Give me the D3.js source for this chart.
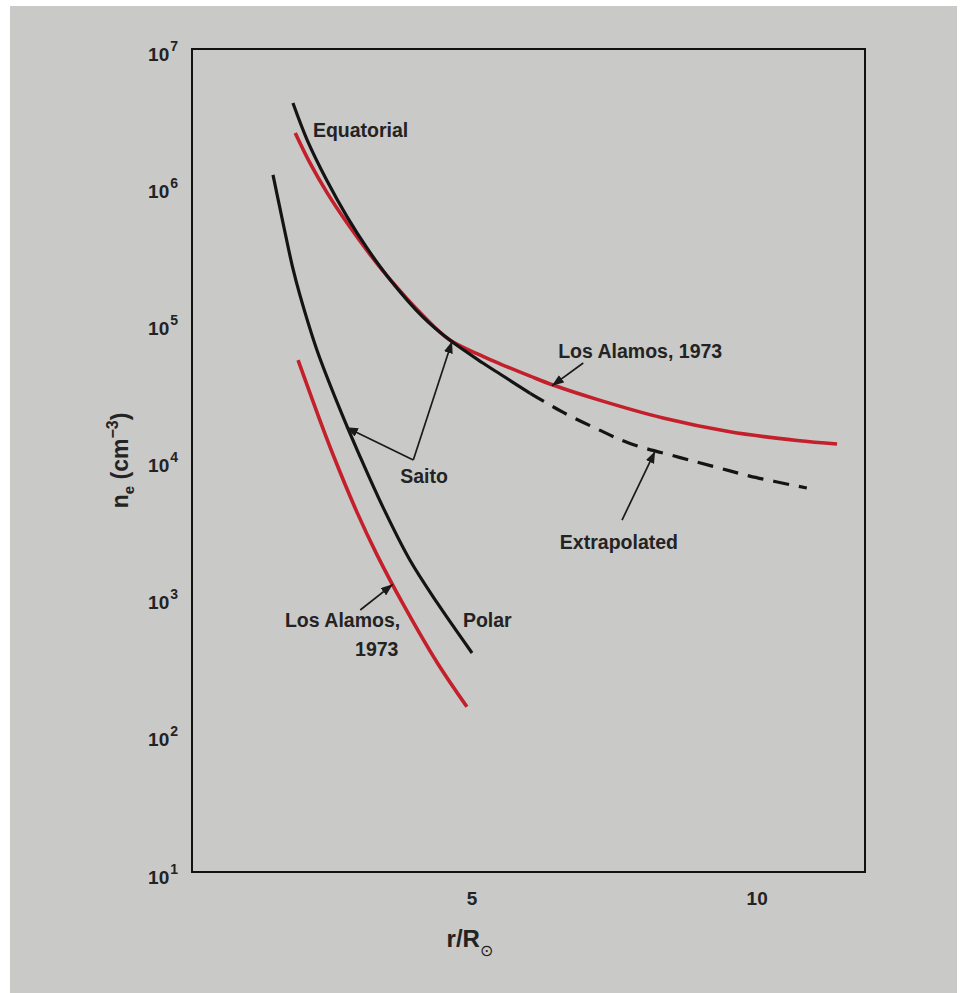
<!DOCTYPE html>
<html>
<head>
<meta charset="utf-8">
<script src="https://cdn.jsdelivr.net/npm/d3@7"></script>
<style>
  html, body { margin: 0; padding: 0; background: #fff; }
  svg text { font-family: "Liberation Sans", Arial, sans-serif; fill: #232323; }
</style>
</head>
<body>
<div id="chart"></div>
<script>
// r/R_sun, n_e (cm^-3)
const equatorialR = [1.87, 2.12, 2.47, 2.82, 3.17, 3.57, 4.15, 4.62, 5.20, 5.50, 6.03];
const equatorialN = [4.04e6, 2.17e6, 1.09e6, 5.97e5, 3.53e5, 2.09e5, 1.11e5, 7.55e4, 5.14e4, 4.27e4, 3.09e4];

const extrapolatedR = [6.03, 6.61, 7.20, 7.78, 8.66, 9.31, 9.88, 10.88];
const extrapolatedN = [3.09e4, 2.24e4, 1.70e4, 1.33e4, 1.05e4, 8.9e3, 7.7e3, 6.3e3];

const losAlamosEqR = [1.91, 2.17, 2.47, 2.82, 3.22, 3.52, 4.15, 4.62, 5.20, 5.50, 6.03, 6.43, 7.20, 8.36, 9.53, 10.71, 11.41];
const losAlamosEqN = [2.44e6, 1.47e6, 8.93e5, 5.38e5, 3.18e5, 2.22e5, 1.14e5, 7.55e4, 5.75e4, 5.07e4, 4.12e4, 3.55e4, 2.79e4, 2.04e4, 1.62e4, 1.40e4, 1.32e4];

const polarR = [1.52, 1.70, 1.87, 1.99, 2.29, 2.70, 3.05, 3.45, 3.92, 4.40, 5.01];
const polarN = [1.21e6, 5.3e5, 2.5e5, 1.62e5, 6.4e4, 2.33e4, 1.06e4, 4.55e3, 1.88e3, 915, 395];

const losAlamosPolarR = [1.96, 2.29, 2.57, 2.99, 3.34, 3.80, 4.40, 4.92];
const losAlamosPolarN = [5.4e4, 2.25e4, 1.11e4, 4.22e3, 2.07e3, 900, 335, 160];

const xTicks = [5, 10];
const yTicks = [1e1, 1e2, 1e3, 1e4, 1e5, 1e6, 1e7];

// labels: text anchor point and arrows (tail -> tip), data coords
const labels = [
  { text: "Equatorial", r: 2.22, n: 2.28e6, anchor: "start" },
  { text: "Saito", r: 3.75, n: 6.85e3, anchor: "start" },
  { text: "Los Alamos, 1973", r: 6.52, n: 5.59e4, anchor: "start" },
  { text: "Extrapolated", r: 6.55, n: 2.26e3, anchor: "start" },
  { text: "Los Alamos,", r: 3.75, n: 611, anchor: "end" },
  { text: "1973", r: 3.72, n: 376, anchor: "end" },
  { text: "Polar", r: 4.85, n: 611, anchor: "start" }
];
const arrows = [
  { from: [3.98, 1.01e4], to: [2.80, 1.75e4] },
  { from: [3.98, 1.01e4], to: [4.66, 7.4e4] },
  { from: [6.96, 5.14e4], to: [6.41, 3.5e4] },
  { from: [7.64, 3.68e3], to: [8.22, 1.17e4] },
  { from: [3.05, 813], to: [3.62, 1.25e3] }
];

const W = 963, H = 993;
const margin = { top: 49, right: 98, bottom: 121, left: 192 },
  width = W - margin.left - margin.right,
  height = H - margin.top - margin.bottom;

const root = d3.select('#chart')
  .append('svg')
  .attr('width', W)
  .attr('height', H);

root.append('rect')
  .attr('x', 10).attr('y', 6)
  .attr('width', 947).attr('height', 987)
  .attr('fill', '#c9c9c8');

const svg = root.append('g')
  .attr('transform', 'translate(' + margin.left + ',' + margin.top + ')');

const x = d3.scaleLinear().domain([0.1, 11.9]).range([0, width]);
const y = d3.scaleLog().domain([1e1, 1e7]).range([height, 0]);

const line = d3.line()
  .x(d => x(d[0]))
  .y(d => y(d[1]))
  .curve(d3.curveCatmullRom.alpha(0.5));

const zip = (a, b) => a.map((v, i) => [v, b[i]]);

// frame
svg.append('rect')
  .attr('width', width).attr('height', height)
  .attr('fill', 'none')
  .attr('stroke', '#111')
  .attr('stroke-width', 2);

// x axis
const xAxis = svg.append('g')
  .attr('transform', 'translate(0,' + height + ')')
  .call(d3.axisBottom(x).tickValues(xTicks).tickSize(0).tickPadding(20));
xAxis.select('.domain').remove();
xAxis.selectAll('text')
  .attr('font-size', 19).attr('font-weight', 'bold')
  .attr('font-family', '"Liberation Sans", Arial, sans-serif')
  .attr('fill', '#232323');

// y axis
const yAxis = svg.append('g')
  .call(d3.axisLeft(y).tickValues(yTicks).tickSize(0).tickFormat(() => ''));
yAxis.select('.domain').remove();
yAxis.selectAll('.tick text').each(function (d) {
  const t = d3.select(this)
    .attr('x', -14).attr('dy', 11)
    .attr('text-anchor', 'end')
    .attr('font-size', 19).attr('font-weight', 'bold')
    .attr('font-family', '"Liberation Sans", Arial, sans-serif')
    .attr('fill', '#232323');
  t.append('tspan').text('10');
  t.append('tspan').attr('dx', 1).attr('dy', -10).attr('font-size', 14).text(Math.round(Math.log10(d)));
});

// curves
svg.append('path').datum(zip(polarR, polarN))
  .attr('fill', 'none').attr('stroke', '#141414').attr('stroke-width', 3.2).attr('d', line);
svg.append('path').datum(zip(losAlamosPolarR, losAlamosPolarN))
  .attr('fill', 'none').attr('stroke', '#c4202b').attr('stroke-width', 3.6).attr('d', line);
svg.append('path').datum(zip(losAlamosEqR, losAlamosEqN))
  .attr('fill', 'none').attr('stroke', '#c4202b').attr('stroke-width', 3.6).attr('d', line);
svg.append('path').datum(zip(equatorialR, equatorialN))
  .attr('fill', 'none').attr('stroke', '#141414').attr('stroke-width', 3.2).attr('d', line);
svg.append('path').datum(zip(extrapolatedR, extrapolatedN))
  .attr('fill', 'none').attr('stroke', '#141414').attr('stroke-width', 3.2)
  .attr('stroke-dasharray', '16,10').attr('d', line);

// arrows
root.append('defs').append('marker')
  .attr('id', 'head')
  .attr('viewBox', '0 0 12 9')
  .attr('refX', 12).attr('refY', 4.5)
  .attr('markerWidth', 12).attr('markerHeight', 9)
  .attr('markerUnits', 'userSpaceOnUse')
  .attr('orient', 'auto')
  .append('path').attr('d', 'M0,0L12,4.5L0,9Z').attr('fill', '#1a1a1a');

svg.selectAll('.arrow').data(arrows).enter().append('line')
  .attr('class', 'arrow')
  .attr('x1', d => x(d.from[0])).attr('y1', d => y(d.from[1]))
  .attr('x2', d => x(d.to[0])).attr('y2', d => y(d.to[1]))
  .attr('stroke', '#1a1a1a').attr('stroke-width', 1.7)
  .attr('marker-end', 'url(#head)');

// labels
svg.selectAll('.lbl').data(labels).enter().append('text')
  .attr('class', 'lbl')
  .attr('x', d => x(d.r)).attr('y', d => y(d.n))
  .attr('text-anchor', d => d.anchor)
  .attr('font-size', 19.5).attr('font-weight', 'bold')
  .text(d => d.text);

// axis titles
const yt = root.append('text')
  .attr('transform', 'translate(128,' + (margin.top + height / 2) + ') rotate(-90)')
  .attr('text-anchor', 'middle')
  .attr('font-size', 23).attr('font-weight', 'bold');
yt.append('tspan').text('n');
yt.append('tspan').attr('dy', 6).attr('font-size', 15).text('e');
yt.append('tspan').attr('dy', -6).text(' (cm');
yt.append('tspan').attr('dy', -10).attr('font-size', 16).text('\u22123');
yt.append('tspan').attr('dy', 10).text(')');

const xt = root.append('text')
  .attr('x', margin.left + x(4.97)).attr('y', 947)
  .attr('text-anchor', 'middle')
  .attr('font-size', 24).attr('font-weight', 'bold');
xt.append('tspan').text('r/R');
xt.append('tspan').attr('dy', 9).attr('font-size', 16).attr('font-weight', 'normal').text('\u2299');
</script>
</body>
</html>
